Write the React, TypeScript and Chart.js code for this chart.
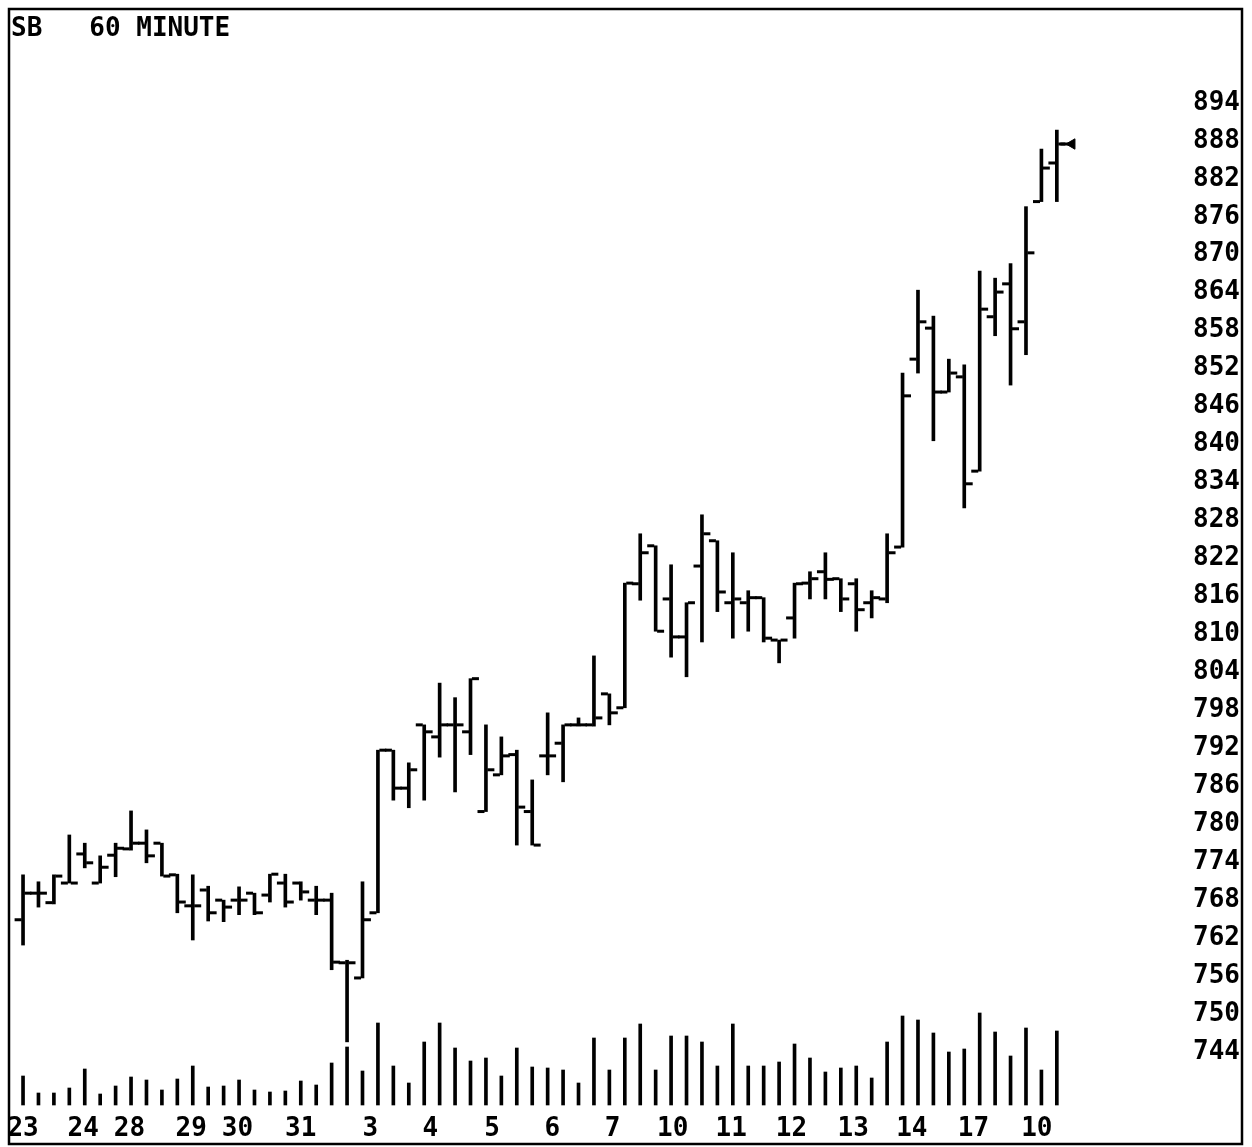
import React, { useEffect, useRef } from "react";
import { Chart, registerables } from "chart.js";

Chart.register(...registerables);

// ---- data (60-minute bars, sugar "SB") ----
const opens = [
  764.9, 769.1, 767.6, 770.7, 775.3, 770.7, 775.1, 776.1, 777.0, 777.0,
  772.0, 767.1, 769.6, 768.0, 768.0, 769.1, 768.8, 770.7, 770.7, 768.0,
  768.0, 758.1, 755.7, 766.0, 791.7, 785.7, 795.7, 793.8, 795.7, 794.6,
  782.0, 787.8, 791.0, 782.0, 790.8, 792.8, 795.7, 795.7, 800.6, 798.4,
  818.0, 824.0, 815.6, 809.6, 820.8, 824.8, 815.0, 815.0, 815.8, 809.1,
  812.6, 818.1, 819.9, 818.8, 818.0, 815.0, 815.6, 823.8, 853.5, 858.4,
  848.3, 850.7, 835.8, 860.2, 865.4, 859.4, 878.4, 884.5,
];
const highs = [
  772.0, 770.9, 772.0, 778.3, 777.0, 775.0, 777.0, 782.1, 779.1, 777.0,
  772.1, 772.0, 770.2, 768.0, 770.1, 769.1, 772.1, 772.1, 770.9, 770.2,
  769.1, 758.5, 770.9, 791.7, 791.7, 789.7, 795.7, 802.3, 800.0, 803.0,
  795.7, 793.8, 791.7, 787.0, 797.6, 795.7, 796.8, 806.6, 800.6, 818.1,
  825.9, 824.0, 821.0, 815.0, 828.9, 824.8, 822.9, 816.9, 815.8, 809.1,
  818.1, 819.9, 822.9, 818.8, 818.8, 816.9, 825.9, 851.3, 864.4, 860.3,
  853.5, 852.6, 867.4, 866.3, 868.6, 877.6, 886.7, 889.7,
];
const lows = [
  760.9, 766.9, 767.4, 770.7, 773.1, 770.7, 771.7, 775.9, 773.9, 771.8,
  766.0, 761.7, 764.7, 764.6, 765.7, 765.7, 767.7, 766.9, 768.0, 765.7,
  757.0, 745.6, 755.7, 766.0, 783.8, 782.6, 783.8, 790.6, 785.1, 791.0,
  782.0, 787.8, 776.7, 776.7, 787.8, 786.7, 795.5, 795.5, 795.7, 798.4,
  815.4, 810.5, 806.4, 803.3, 808.8, 813.6, 809.4, 810.5, 808.8, 805.5,
  809.4, 815.6, 815.6, 813.6, 810.5, 812.6, 815.0, 823.8, 851.3, 840.6,
  848.3, 830.0, 835.8, 857.2, 849.4, 854.2, 878.4, 878.4,
];
const closes = [
  769.1, 769.1, 771.8, 770.7, 773.9, 773.2, 776.2, 777.0, 775.0, 771.8,
  767.7, 767.1, 766.0, 766.9, 768.0, 766.0, 772.1, 767.7, 769.3, 768.0,
  758.2, 758.1, 764.9, 791.7, 785.7, 788.6, 794.6, 795.7, 795.7, 803.0,
  788.6, 790.8, 782.7, 776.7, 790.8, 795.7, 795.7, 796.8, 797.6, 818.1,
  822.9, 810.5, 809.6, 815.0, 825.9, 816.7, 815.6, 815.8, 809.4, 809.1,
  818.0, 818.8, 818.7, 815.6, 813.9, 815.8, 822.9, 847.7, 859.4, 848.3,
  851.3, 833.8, 861.4, 864.1, 858.3, 870.3, 883.7, 887.5,
];
const volumes = [
  29, 12, 12, 17, 36, 11, 19, 28, 25, 15,
  26, 39, 18, 19, 25, 15, 13, 14, 24, 20,
  42, 58, 34, 82, 39, 22, 63, 82, 57, 44,
  47, 29, 57, 38, 37, 35, 22, 67, 35, 67,
  81, 35, 69, 69, 63, 39, 81, 39, 39, 43,
  61, 47, 33, 37, 39, 27, 63, 89, 85, 72,
  53, 56, 92, 73, 49, 77, 35, 74,
];
const priceTicks = [
  744, 750, 756, 762, 768, 774, 780, 786, 792, 798, 804, 810, 816,
  822, 828, 834, 840, 846, 852, 858, 864, 870, 876, 882, 888, 894,
];
const dayLabels = ["23", "24", "28", "29", "30", "31", "3", "4", "5", "6", "7", "10", "11", "12", "13", "14", "17", "10"];
const dayLabelAt = [0, 3.9, 6.9, 10.9, 13.9, 18.0, 22.5, 26.4, 30.4, 34.3, 38.2, 42.1, 45.9, 49.8, 53.8, 57.6, 61.6, 65.7];
const chartTitle = "SB   60 MINUTE";

const FONT = "'DejaVu Sans Mono', 'Liberation Mono', monospace";

export default function App() {
  const ref = useRef<HTMLCanvasElement | null>(null);

  useEffect(() => {
    document.body.style.margin = "0";
    const canvas = ref.current;
    if (!canvas) return;
    const idx = opens.map((_, i) => i);
    const last = idx.length - 1;

    const framePlugin = {
      id: "frame",
      afterDraw(chart: any) {
        const { ctx, chartArea, scales } = chart;
        ctx.save();
        ctx.strokeStyle = "#000";
        ctx.lineWidth = 2.5;
        const top = 9;
        ctx.strokeRect(chartArea.left - 2, top, chartArea.right - chartArea.left + 2, scales.x.bottom - top);
        ctx.restore();
      },
    };

    const tickPoint = {
      type: "line" as const,
      showLine: false,
      pointStyle: "line",
      pointRadius: 3.5,
      pointBorderWidth: 3,
      pointBorderColor: "#000",
      pointBackgroundColor: "#000",
      yAxisID: "y",
    };

    const chart = new Chart(canvas, {
      type: "bar",
      data: {
        datasets: [
          {
            type: "bar",
            label: "High-Low",
            data: idx.map((i) => ({ x: i, y: [lows[i], highs[i]] })) as any,
            backgroundColor: "#000",
            barThickness: 3,
            grouped: false,
            yAxisID: "y",
          },
          {
            type: "bar",
            label: "Volume",
            data: idx.map((i) => ({ x: i, y: volumes[i] })) as any,
            backgroundColor: "#000",
            barThickness: 3,
            grouped: false,
            yAxisID: "yv",
          },
          { ...tickPoint, label: "Open", data: idx.map((i) => ({ x: i - 0.32, y: opens[i] })) } as any,
          { ...tickPoint, label: "Close", data: idx.map((i) => ({ x: i + 0.32, y: closes[i] })) } as any,
          { ...tickPoint, label: "Last", pointRadius: 5, data: [{ x: last + 0.55, y: closes[last] }] } as any,
          {
            type: "line",
            label: "Marker",
            showLine: false,
            pointStyle: "triangle",
            rotation: 270,
            pointRadius: 6,
            pointBorderWidth: 1,
            pointBorderColor: "#000",
            pointBackgroundColor: "#000",
            yAxisID: "y",
            data: [{ x: last + 0.98, y: closes[last] }],
          } as any,
        ],
      },
      options: {
        responsive: false,
        animation: false,
        events: [],
        layout: { padding: { left: 11, right: 10, top: 0, bottom: 3 } },
        plugins: {
          legend: { display: false },
          tooltip: { enabled: false },
          title: {
            display: true,
            text: chartTitle,
            align: "start",
            color: "#000",
            font: { family: FONT, size: 26, weight: "bold", lineHeight: 1.073 },
            padding: { top: 15, bottom: 0 },
          },
        },
        scales: {
          x: {
            type: "linear",
            position: "bottom",
            offset: false,
            min: -0.78,
            max: 79.0,
            grid: { display: false, drawTicks: false },
            border: { display: false },
            afterFit: (s: any) => {
              s.height = 30;
            },
            afterBuildTicks: (scale: any) => {
              scale.ticks = dayLabelAt.map((v) => ({ value: v }));
            },
            ticks: {
              autoSkip: false,
              maxRotation: 0,
              padding: 0,
              color: "#000",
              font: { family: FONT, size: 26, weight: "bold" },
              callback: (_v: any, i: number) => dayLabels[i],
            },
          },
          y: {
            type: "linear",
            position: "right",
            min: 734.2,
            max: 903.48,
            grid: { display: false, drawTicks: false },
            border: { display: false },
            afterFit: (s: any) => {
              s.width = 0;
            },
            afterBuildTicks: (scale: any) => {
              scale.ticks = priceTicks.map((v) => ({ value: v }));
            },
            ticks: {
              mirror: true,
              padding: -2,
              color: "#000",
              font: { family: FONT, size: 26, weight: "bold" },
              callback: (v: any) => String(v),
            },
          },
          yv: {
            type: "linear",
            display: false,
            min: -9,
            max: 1062,
          },
        },
      },
      plugins: [framePlugin],
    });
    return () => chart.destroy();
  }, []);

  return <canvas ref={ref} width={1252} height={1147} style={{ display: "block" }} />;
}
